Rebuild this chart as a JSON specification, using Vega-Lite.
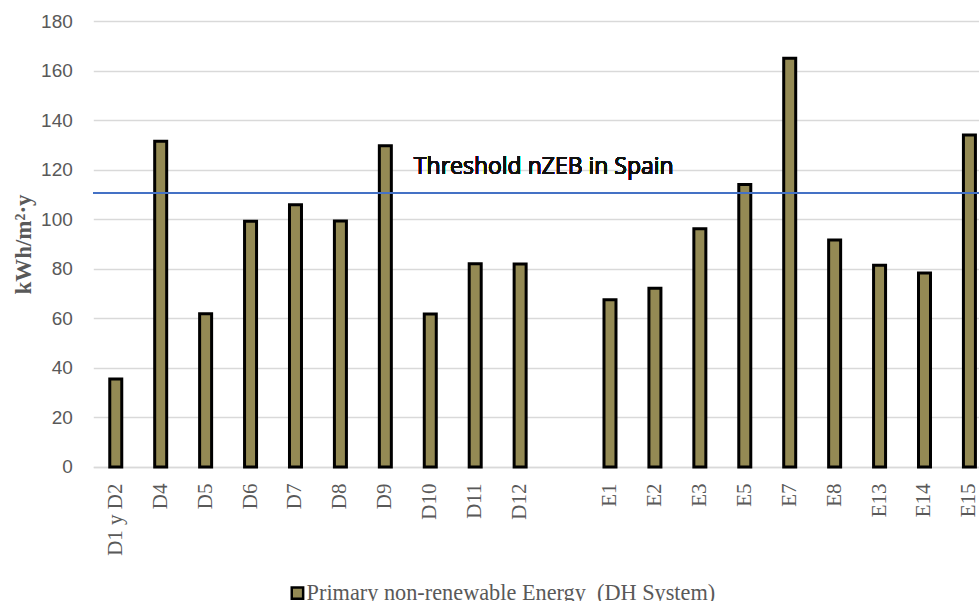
{
  "$schema": "https://vega.github.io/schema/vega-lite/v6.json",
  "autosize": {"type": "none"},
  "padding": {"left": 93.3, "top": 21, "right": 0, "bottom": 134},
  "width": 898.6,
  "height": 446,
  "background": "white",
  "config": {"view": {"stroke": null}},
  "data": {
    "values": [
      {"site": "D1 y D2", "energy": 35.5, "series": "Primary non-renewable Energy\u00a0 (DH System)"},
      {"site": "D4", "energy": 131.5, "series": "Primary non-renewable Energy\u00a0 (DH System)"},
      {"site": "D5", "energy": 61.8, "series": "Primary non-renewable Energy\u00a0 (DH System)"},
      {"site": "D6", "energy": 99.2, "series": "Primary non-renewable Energy\u00a0 (DH System)"},
      {"site": "D7", "energy": 105.8, "series": "Primary non-renewable Energy\u00a0 (DH System)"},
      {"site": "D8", "energy": 99.3, "series": "Primary non-renewable Energy\u00a0 (DH System)"},
      {"site": "D9", "energy": 129.7, "series": "Primary non-renewable Energy\u00a0 (DH System)"},
      {"site": "D10", "energy": 61.7, "series": "Primary non-renewable Energy\u00a0 (DH System)"},
      {"site": "D11", "energy": 82.0, "series": "Primary non-renewable Energy\u00a0 (DH System)"},
      {"site": "D12", "energy": 81.9, "series": "Primary non-renewable Energy\u00a0 (DH System)"},
      {"site": "E1", "energy": 67.5, "series": "Primary non-renewable Energy\u00a0 (DH System)"},
      {"site": "E2", "energy": 72.1, "series": "Primary non-renewable Energy\u00a0 (DH System)"},
      {"site": "E3", "energy": 96.2, "series": "Primary non-renewable Energy\u00a0 (DH System)"},
      {"site": "E5", "energy": 114.0, "series": "Primary non-renewable Energy\u00a0 (DH System)"},
      {"site": "E7", "energy": 165.0, "series": "Primary non-renewable Energy\u00a0 (DH System)"},
      {"site": "E8", "energy": 91.6, "series": "Primary non-renewable Energy\u00a0 (DH System)"},
      {"site": "E13", "energy": 81.4, "series": "Primary non-renewable Energy\u00a0 (DH System)"},
      {"site": "E14", "energy": 78.3, "series": "Primary non-renewable Energy\u00a0 (DH System)"},
      {"site": "E15", "energy": 134.0, "series": "Primary non-renewable Energy\u00a0 (DH System)"}
    ]
  },
  "layer": [
    {
      "mark": {"type": "bar", "size": 12, "stroke": "black", "strokeWidth": 3},
      "encoding": {
        "x": {
          "field": "site",
          "type": "nominal",
          "sort": null,
          "scale": {
            "domain": ["D1 y D2", "D4", "D5", "D6", "D7", "D8", "D9", "D10", "D11", "D12", " ", "E1", "E2", "E3", "E5", "E7", "E8", "E13", "E14", "E15"],
            "paddingInner": 0,
            "paddingOuter": 0
          },
          "axis": {
            "title": null,
            "labelAngle": -90,
            "labelFont": "Liberation Serif",
            "labelFontSize": 21,
            "labelColor": "#595959",
            "labelPadding": 16,
            "ticks": false,
            "domainColor": "#D9D9D9",
            "domainWidth": 1.5,
            "grid": false
          }
        },
        "y": {
          "field": "energy",
          "type": "quantitative",
          "scale": {"domain": [0, 180], "nice": false},
          "axis": {
            "title": "kWh/m²·y",
            "titleFont": "Liberation Serif",
            "titleFontSize": 23,
            "titleFontWeight": "bold",
            "titleColor": "#595959",
            "titlePadding": 5,
            "values": [0, 20, 40, 60, 80, 100, 120, 140, 160, 180],
            "labelFont": "Liberation Sans",
            "labelFontSize": 19,
            "labelColor": "#595959",
            "labelPadding": 21,
            "ticks": false,
            "domain": false,
            "gridColor": "#D9D9D9",
            "gridWidth": 1.3
          }
        },
        "color": {
          "field": "series",
          "type": "nominal",
          "scale": {"range": ["#948A54"]},
          "legend": {
            "title": null,
            "orient": "none",
            "legendX": 193,
            "legendY": 561,
            "symbolType": "square",
            "symbolSize": 130,
            "symbolStrokeColor": "black",
            "symbolStrokeWidth": 2.5,
            "symbolFillColor": "#948A54",
            "labelFont": "Liberation Serif",
            "labelFontSize": 22.3,
            "labelColor": "#595959",
            "labelOffset": -2,
            "labelLimit": 700
          }
        }
      }
    },
    {
      "mark": {"type": "rule", "color": "#4472C4", "strokeWidth": 1.5},
      "encoding": {"y": {"datum": 110.6, "type": "quantitative"}}
    },
    {
      "mark": {"type": "text", "font": "Open Sans", "fontSize": 23, "fontWeight": 400, "color": "#111111", "align": "left", "baseline": "alphabetic", "dx": -16.4},
      "encoding": {
        "x": {"datum": "D10", "type": "nominal"},
        "y": {"datum": 118.2, "type": "quantitative"},
        "text": {"value": "Threshold nZEB in Spain"}
      }
    }
  ]
}
